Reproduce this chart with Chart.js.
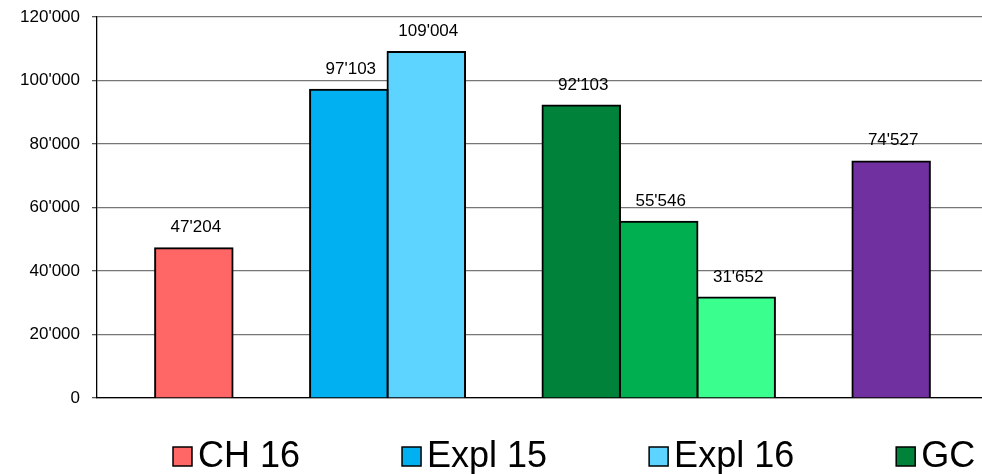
<!DOCTYPE html>
<html>
<head>
<meta charset="utf-8">
<script src="https://cdn.jsdelivr.net/npm/chart.js@4.4.1/dist/chart.umd.min.js"></script>
<style>
  html, body { margin: 0; padding: 0; background: #fff; overflow: hidden; width: 982px; height: 474px; }
  #wrap { width: 1000px; height: 474px; }
</style>
</head>
<body>
<div id="wrap"><canvas id="c" width="1000" height="474"></canvas></div>
<script>
// ---- data ----
const categories = [''];
const seriesNames = ['CH 16', '', 'Expl 15', 'Expl 16', '', 'GC', '', '', '', ''];
const seriesValues = [47204, null, 97103, 109004, null, 92103, 55546, 31652, null, 74527];
const seriesColors = ['#FF6666', '#FFFFFF', '#00B0F0', '#5DD3FF', '#FFFFFF', '#00823B', '#00B050', '#3AFF8E', '#FFFFFF', '#7030A0'];
const yTicks = [0, 20000, 40000, 60000, 80000, 100000, 120000];

const FONT = '"Liberation Sans", Arial, sans-serif';
function fmt(v) { return String(v).replace(/\B(?=(\d{3})+(?!\d))/g, "'"); }

const datasets = seriesValues.map((v, i) => ({
  label: seriesNames[i],
  data: [v],
  backgroundColor: seriesColors[i],
  borderColor: '#000000',
  borderWidth: 2,
  borderSkipped: 'bottom',
  inflateAmount: 1,
  categoryPercentage: seriesValues.length / (seriesValues.length + 1.5),
  barPercentage: 1.0
}));

const valueLabels = {
  id: 'valueLabels',
  afterDatasetsDraw(chart) {
    const ctx = chart.ctx;
    ctx.save();
    ctx.font = '17px ' + FONT;
    ctx.fillStyle = '#000';
    ctx.textAlign = 'center';
    ctx.textBaseline = 'alphabetic';
    chart.data.datasets.forEach((ds, i) => {
      const meta = chart.getDatasetMeta(i);
      meta.data.forEach((el, j) => {
        const v = ds.data[j];
        if (v === null || v === undefined) return;
        ctx.fillText(fmt(v), el.x + 2, el.y - 16);
      });
    });
    ctx.restore();
  }
};

const bottomLegend = {
  id: 'bottomLegend',
  afterDraw(chart) {
    const ctx = chart.ctx;
    ctx.save();
    ctx.font = '36px ' + FONT;
    ctx.textBaseline = 'middle';
    ctx.textAlign = 'left';
    let x = 173;
    const boxY = 447, box = 19, gapText = 6, gapItem = 102, textY = 457;
    chart.data.datasets.forEach((ds) => {
      if (!ds.label) return;
      ctx.fillStyle = ds.backgroundColor;
      ctx.fillRect(x, boxY, box, box);
      ctx.strokeStyle = '#000';
      ctx.lineWidth = 1.5;
      ctx.strokeRect(x, boxY, box, box);
      ctx.fillStyle = '#000';
      ctx.fillText(ds.label, x + box + gapText, textY);
      x += box + gapText + ctx.measureText(ds.label).width + gapItem;
    });
    ctx.restore();
  }
};

new Chart(document.getElementById('c'), {
  type: 'bar',
  data: { labels: categories, datasets },
  options: {
    responsive: false,
    animation: false,
    layout: { padding: { left: 0, top: 17, right: 12, bottom: 76 } },
    plugins: { legend: { display: false }, tooltip: { enabled: false } },
    scales: {
      x: {
        grid: { display: false },
        border: { display: true, color: '#000', width: 1.3 },
        ticks: { display: false },
        afterFit(scale) { scale.height = 0; scale.paddingLeft = 0; scale.paddingRight = 0; }
      },
      y: {
        min: 0,
        max: 120000,
        afterBuildTicks(scale) { scale.ticks = yTicks.map(v => ({ value: v })); },
        afterFit(scale) { scale.width = 97; scale.paddingTop = 0; scale.paddingBottom = 0; },
        grid: { color: '#767676', lineWidth: 1.3, tickLength: 5, tickColor: '#555' },
        border: { display: true, color: '#000', width: 1.3 },
        ticks: {
          padding: 12,
          color: '#000',
          font: { family: FONT, size: 17 },
          callback: (v) => fmt(v)
        }
      }
    }
  },
  plugins: [valueLabels, bottomLegend]
});
</script>
</body>
</html>
